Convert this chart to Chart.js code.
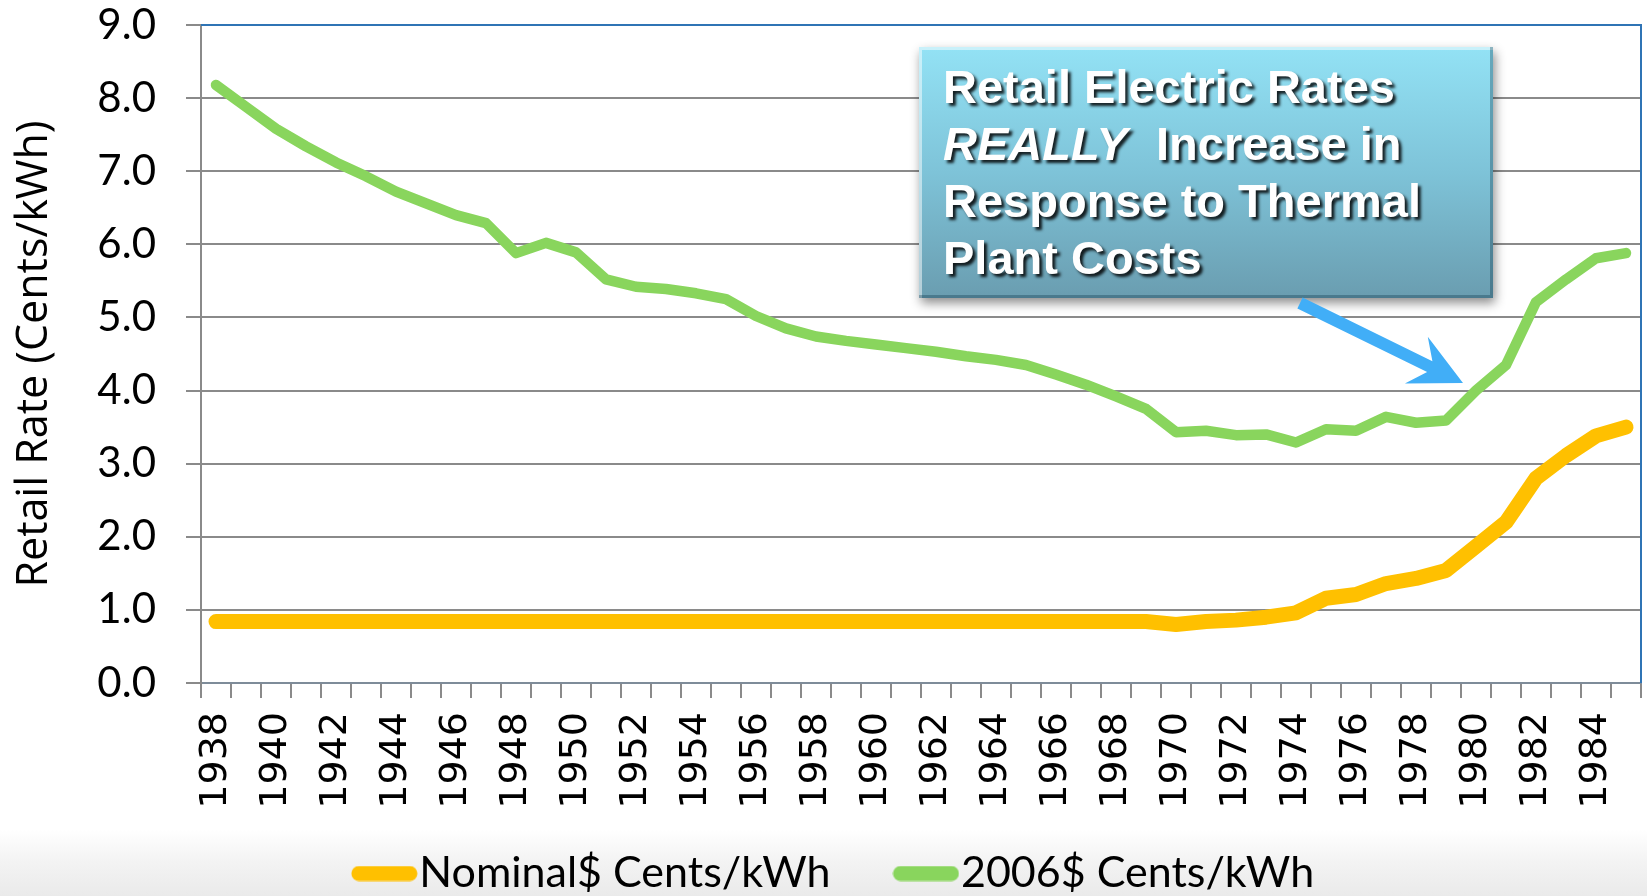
<!DOCTYPE html>
<html>
<head>
<meta charset="utf-8">
<title>Retail Electric Rates</title>
<script src="https://cdn.jsdelivr.net/npm/chart.js@4.4.1/dist/chart.umd.min.js"></script>
<style>
  html, body {
    margin: 0;
    padding: 0;
    width: 1647px;
    height: 896px;
    overflow: hidden;
    background: linear-gradient(to bottom, #ffffff 0px, #ffffff 830px, #f3f3f3 862px, #eaeaea 896px);
  }
  canvas { display: block; }
</style>
</head>
<body>
<canvas id="rates" width="1647" height="905"></canvas>
<script>
// years on the category axis
const years = [1938, 1939, 1940, 1941, 1942, 1943, 1944, 1945, 1946, 1947,
               1948, 1949, 1950, 1951, 1952, 1953, 1954, 1955, 1956, 1957,
               1958, 1959, 1960, 1961, 1962, 1963, 1964, 1965, 1966, 1967,
               1968, 1969, 1970, 1971, 1972, 1973, 1974, 1975, 1976, 1977,
               1978, 1979, 1980, 1981, 1982, 1983, 1984, 1985];

// every second year gets a label
const xTickYears = [1938, 1940, 1942, 1944, 1946, 1948, 1950, 1952, 1954, 1956, 1958, 1960,
                    1962, 1964, 1966, 1968, 1970, 1972, 1974, 1976, 1978, 1980, 1982, 1984];

const yTickValues = [0, 1, 2, 3, 4, 5, 6, 7, 8, 9];

// cents per kWh
const nominalCents = [0.84, 0.84, 0.84, 0.84, 0.84, 0.84, 0.84, 0.84, 0.84, 0.84,
                      0.84, 0.84, 0.84, 0.84, 0.84, 0.84, 0.84, 0.84, 0.84, 0.84,
                      0.84, 0.84, 0.84, 0.84, 0.84, 0.84, 0.84, 0.84, 0.84, 0.84,
                      0.84, 0.84, 0.80, 0.84, 0.86, 0.90, 0.96, 1.16, 1.21, 1.36,
                      1.43, 1.54, 1.87, 2.20, 2.80, 3.11, 3.38, 3.50];

const real2006Cents = [8.18, 7.88, 7.58, 7.34, 7.12, 6.93, 6.72, 6.56, 6.40, 6.29,
                       5.88, 6.02, 5.89, 5.52, 5.42, 5.39, 5.33, 5.25, 5.02, 4.85,
                       4.74, 4.68, 4.63, 4.58, 4.53, 4.47, 4.42, 4.35, 4.22, 4.08,
                       3.92, 3.75, 3.43, 3.45, 3.39, 3.40, 3.29, 3.47, 3.45, 3.64,
                       3.56, 3.59, 4.00, 4.35, 5.21, 5.52, 5.81, 5.88];

const seriesNames = ['Nominal$ Cents/kWh', '2006$ Cents/kWh'];
const seriesColors = ['#ffc000', '#89d55d'];

// small canvas used as the legend swatch (thick rounded line)
function legendLine(color) {
    const c = document.createElement('canvas');
    c.width = 67;
    c.height = 16;
    const g = c.getContext('2d');
    g.strokeStyle = color;
    g.lineWidth = 15;
    g.lineCap = 'round';
    g.beginPath();
    g.moveTo(8, 8);
    g.lineTo(59, 8);
    g.stroke();
    return c;
}

// let the rotated year labels run into the legend band, and nudge the legend right
const layoutTweaks = {
    id: 'layoutTweaks',
    afterLayout(chart) {
        chart.scales.x.bottom = chart.height;
        chart.legend.left += 22;
        chart.legend.right += 22;
    }
};

// blue frame on top and right of the plot area
const plotFrame = {
    id: 'plotFrame',
    afterDatasetsDraw(chart) {
        const {ctx, chartArea: a} = chart;
        ctx.save();
        ctx.strokeStyle = '#2f74b5';
        ctx.lineWidth = 2;
        ctx.beginPath();
        ctx.moveTo(a.left, a.top);
        ctx.lineTo(a.right, a.top);
        ctx.lineTo(a.right, a.bottom);
        ctx.stroke();
        ctx.restore();
    }
};

// the text box and the arrow
const callout = {
    id: 'callout',
    afterDraw(chart) {
        const ctx = chart.ctx;
        const bx = 919, by = 47, bw = 574, bh = 251;

        ctx.save();
        ctx.shadowColor = 'rgba(0,0,0,0.45)';
        ctx.shadowBlur = 10;
        ctx.shadowOffsetX = 2;
        ctx.shadowOffsetY = 5;
        const grad = ctx.createLinearGradient(0, by, 0, by + bh);
        grad.addColorStop(0, '#93e2f5');
        grad.addColorStop(0.5, '#7ec3d8');
        grad.addColorStop(1, '#6a9db0');
        ctx.fillStyle = grad;
        ctx.fillRect(bx, by, bw, bh);
        ctx.restore();

        ctx.save();
        ctx.lineWidth = 3;
        ctx.strokeStyle = 'rgba(255,255,255,0.5)';
        ctx.beginPath();
        ctx.moveTo(bx + 1.5, by + bh);
        ctx.lineTo(bx + 1.5, by + 1.5);
        ctx.lineTo(bx + bw, by + 1.5);
        ctx.stroke();
        ctx.strokeStyle = 'rgba(0,40,60,0.3)';
        ctx.beginPath();
        ctx.moveTo(bx + bw - 1.5, by);
        ctx.lineTo(bx + bw - 1.5, by + bh - 1.5);
        ctx.lineTo(bx, by + bh - 1.5);
        ctx.stroke();
        ctx.restore();

        ctx.save();
        ctx.fillStyle = '#ffffff';
        ctx.shadowColor = 'rgba(0,0,0,0.85)';
        ctx.shadowBlur = 3;
        ctx.shadowOffsetX = 3;
        ctx.shadowOffsetY = 3;
        ctx.textBaseline = 'alphabetic';
        ctx.font = 'bold 47px "Liberation Sans", Arial, sans-serif';
        ctx.fillText('Retail Electric Rates', 943, 103);
        ctx.font = 'italic bold 47px "Liberation Sans", Arial, sans-serif';
        ctx.fillText('REALLY', 943, 160);
        ctx.font = 'bold 47px "Liberation Sans", Arial, sans-serif';
        ctx.fillText('Increase in', 1156, 160);
        ctx.fillText('Response to Thermal', 943, 217);
        ctx.fillText('Plant Costs', 943, 274);
        ctx.restore();

        // arrow from the box down to the 1980 upturn
        const tx = 1300, ty = 303, px = 1463, py = 383;
        const len = Math.hypot(px - tx, py - ty);
        const ux = (px - tx) / len, uy = (py - ty) / len;
        const nx = -uy, ny = ux;
        const headLen = 52, headHalf = 26, notch = 15, shaft = 6;
        const bxh = px - ux * headLen, byh = py - uy * headLen;
        const kx = bxh + ux * notch, ky = byh + uy * notch;
        ctx.save();
        ctx.fillStyle = '#41aef7';
        ctx.beginPath();
        ctx.moveTo(tx + nx * shaft, ty + ny * shaft);
        ctx.lineTo(kx + nx * shaft, ky + ny * shaft);
        ctx.lineTo(bxh + nx * headHalf, byh + ny * headHalf);
        ctx.lineTo(px, py);
        ctx.lineTo(bxh - nx * headHalf, byh - ny * headHalf);
        ctx.lineTo(kx - nx * shaft, ky - ny * shaft);
        ctx.lineTo(tx - nx * shaft, ty - ny * shaft);
        ctx.closePath();
        ctx.fill();
        ctx.restore();
    }
};

const gridGrey = '#8a8a8a';

new Chart(document.getElementById('rates'), {
    type: 'line',
    data: {
        labels: years,
        datasets: [{
            label: seriesNames[0],
            data: nominalCents,
            borderColor: seriesColors[0],
            backgroundColor: seriesColors[0],
            borderWidth: 15,
            borderCapStyle: 'round',
            borderJoinStyle: 'round',
            pointRadius: 0,
            pointHoverRadius: 0,
            pointStyle: legendLine(seriesColors[0]),
            tension: 0
        }, {
            label: seriesNames[1],
            data: real2006Cents,
            borderColor: seriesColors[1],
            backgroundColor: seriesColors[1],
            borderWidth: 10.5,
            borderCapStyle: 'round',
            borderJoinStyle: 'round',
            pointRadius: 0,
            pointHoverRadius: 0,
            pointStyle: legendLine(seriesColors[1]),
            tension: 0
        }]
    },
    options: {
        responsive: false,
        animation: false,
        devicePixelRatio: 1,
        layout: { padding: { top: 25, right: 6, left: 0, bottom: 0 } },
        plugins: {
            tooltip: { enabled: false },
            legend: {
                position: 'bottom',
                labels: {
                    usePointStyle: true,
                    pointStyleWidth: 27,
                    padding: 82,
                    color: '#000',
                    font: { family: 'Lato', size: 43 }
                }
            }
        },
        scales: {
            x: {
                offset: true,
                grid: {
                    offset: true,
                    drawOnChartArea: false,
                    tickLength: 15,
                    color: gridGrey,
                    lineWidth: 2
                },
                border: { color: '#7e8c99', width: 2 },
                ticks: {
                    autoSkip: false,
                    maxRotation: 90,
                    minRotation: 90,
                    padding: 14,
                    color: '#000',
                    font: { family: 'DejaVu Sans', size: 38 },
                    callback: function(v, i) {
                        const yr = years[i];
                        return xTickYears.includes(yr) ? String(yr) : '';
                    }
                },
                afterFit: function(s) {
                    s.height = 87;
                    s.paddingLeft = 0;
                    s.paddingRight = 0;
                }
            },
            y: {
                min: 0,
                max: 9,
                afterBuildTicks: function(s) {
                    s.ticks = yTickValues.map(v => ({ value: v }));
                },
                grid: { color: gridGrey, lineWidth: 2, tickLength: 15 },
                border: { color: gridGrey, width: 2 },
                ticks: {
                    padding: 30,
                    color: '#000',
                    font: { family: 'Lato', size: 42 },
                    callback: v => v.toFixed(1)
                },
                title: {
                    display: true,
                    text: 'Retail Rate (Cents/kWh)',
                    color: '#000',
                    font: { family: 'Open Sans', size: 43 },
                    padding: { top: 9, bottom: 0 }
                },
                afterFit: function(s) {
                    s.width = 201;
                    s.paddingTop = 0;
                    s.paddingBottom = 0;
                }
            }
        }
    },
    plugins: [layoutTweaks, plotFrame, callout]
});
</script>
</body>
</html>
